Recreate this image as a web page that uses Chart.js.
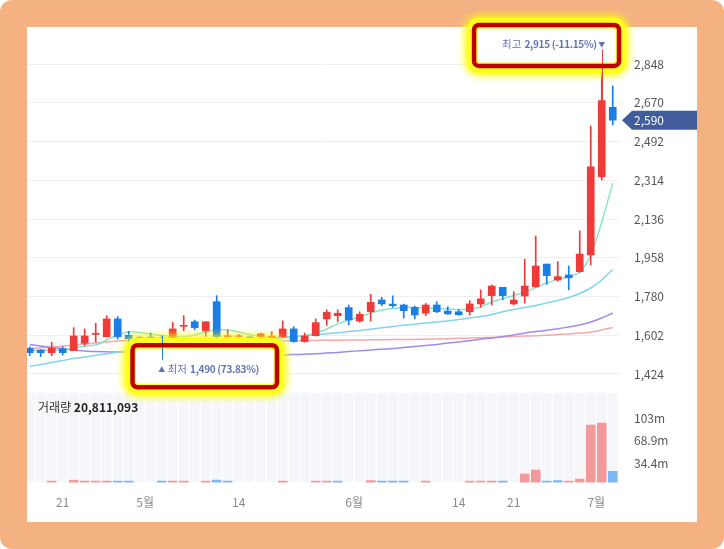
<!DOCTYPE html>
<html><head><meta charset="utf-8">
<script src="https://cdn.jsdelivr.net/npm/chart.js@4.4.1/dist/chart.umd.min.js"></script>
<style>
html,body{margin:0;padding:0;background:#fff;overflow:hidden;}
#frame{position:absolute;left:0;top:0;width:724px;height:549px;background:#f4b283;border-radius:12px;}
#card{position:absolute;left:27px;top:27px;width:670px;height:495px;background:#fff;}
#c{position:absolute;left:0;top:0;}
</style></head><body>
<div id="frame"><div id="card"></div></div>
<canvas id="c" width="724" height="549"></canvas>
<script>
const opens  = [1542,1534,1522,1540,1531,1565,1606,1595,1677,1602,1592,1594,1590,1585,1643,1664,1622,1756,1594,1595,1592,1593,1588,1595,1631,1573,1600,1677,1692,1729,1667,1710,1764,1745,1741,1730,1703,1741,1713,1710,1710,1746,1784,1822,1746,1782,1825,1929,1856,1879,1894,1971,2330,2649];
const closes = [1522,1522,1542,1522,1599,1599,1610,1677,1595,1586,1588,1589,1585,1631,1647,1637,1664,1595,1600,1598,1590,1608,1598,1631,1573,1599,1660,1707,1703,1672,1698,1753,1746,1738,1715,1695,1741,1710,1700,1696,1746,1769,1828,1784,1764,1828,1920,1876,1871,1866,1975,2376,2680,2590];
const highs  = [1549,1536,1570,1549,1637,1631,1657,1692,1688,1620,1597,1612,1600,1661,1692,1672,1664,1784,1626,1606,1598,1612,1618,1668,1641,1612,1677,1719,1719,1741,1710,1790,1776,1783,1745,1736,1748,1756,1733,1720,1761,1810,1833,1822,1802,1951,2058,1929,1940,1920,2081,2563,2915,2747];
const lows   = [1508,1504,1508,1511,1531,1554,1570,1595,1585,1565,1578,1570,1490,1580,1622,1627,1595,1585,1570,1585,1580,1590,1585,1592,1570,1570,1598,1647,1664,1650,1662,1667,1738,1730,1681,1677,1692,1706,1698,1694,1694,1730,1741,1766,1741,1750,1822,1836,1850,1810,1891,1925,2315,2568];
// volume, millions of shares
const volumes = [3,3,6.3,3,8.2,6.3,6.3,6.3,6.3,6.3,3,3,6.3,6.3,6.3,3,6.3,8.2,6.3,3,3,3,3,6.3,3,3,6.3,6.3,6.3,3,3,7.4,6.3,6.3,6.3,3,6.3,3,3,3,6.3,6.3,6.3,6.3,3,17.4,23.6,6.3,7.1,6.3,9.7,93,96,21.5];
const volDir = [-1,-1,1,-1,1,1,1,1,-1,-1,-1,-1,-1,1,1,-1,1,-1,-1,1,-1,1,1,1,-1,1,1,1,-1,-1,1,1,-1,-1,-1,-1,1,-1,-1,-1,1,1,1,-1,1,1,1,-1,-1,1,1,1,1,-1];
const ma5   = [1533,1533,1534,1534,1545,1552,1557,1580,1603,1617,1615,1608,1601,1596,1596,1603,1617,1628,1626,1617,1605,1596,1592,1594,1596,1601,1612,1631,1654,1672,1686,1704,1718,1725,1730,1730,1727,1725,1723,1720,1723,1732,1755,1769,1785,1801,1821,1842,1858,1872,1892,1971,2122,2301];
const ma20  = [1459,1468,1477,1486,1495,1502,1510,1517,1524,1530,1534,1539,1543,1548,1553,1557,1562,1566,1571,1574,1578,1582,1585,1589,1594,1599,1604,1609,1613,1619,1624,1630,1636,1642,1648,1653,1658,1663,1668,1674,1681,1688,1697,1710,1720,1729,1739,1750,1762,1775,1794,1819,1856,1904];
const ma60  = [1560,1553,1546,1540,1534,1530,1527,1526,1525,1524,1523,1522,1521,1520,1519,1518,1517,1516,1515,1514,1513,1512,1512,1512,1513,1515,1517,1520,1523,1527,1531,1534,1538,1541,1546,1550,1555,1560,1566,1571,1577,1584,1589,1596,1603,1612,1619,1625,1632,1640,1649,1663,1681,1704];
const ma120 = [1541,1544,1548,1552,1557,1562,1566,1571,1576,1578,1579,1578,1578,1578,1578,1578,1577,1577,1577,1577,1577,1577,1577,1577,1578,1578,1578,1579,1579,1580,1580,1581,1581,1582,1582,1583,1584,1585,1586,1588,1589,1591,1592,1594,1596,1598,1600,1602,1605,1608,1612,1617,1626,1638];
const yTicks = [1424,1602,1780,1958,2136,2314,2492,2670,2848];
const volTicks = [34.43,68.87,103.3];
const volTickLabels = ['34.4m','68.9m','103m'];
const xTickPos = [3,10.5,19,29.5,39,44,51.5];
const xTickLabels = ['21','5월','14','6월','14','21','7월'];
const lastVolume = '20,811,093';

const FONT = "'Noto Sans CJK KR','Noto Sans',sans-serif";
const RED='#ef3a3a', BLUE='#1a7ee6', VRED='#f29a9a', VBLUE='#7db7f4';
const idx = opens.map((_, i) => i);
const candleColor = idx.map(i => closes[i] >= opens[i] ? RED : BLUE);
const fixPad = s => { s.paddingTop=0; s.paddingBottom=0; s.paddingLeft=0; s.paddingRight=0; };

function maSet(label, arr, color){
  return {type:'line', label, data: idx.map(i=>({x:i,y:arr[i]})), borderColor:color, borderWidth:1.5,
    pointRadius:0, tension:0.3, yAxisID:'y', order:3};
}

function glowBox(ctx, l, t, w, h, after){
  const r = 5;
  ctx.save();
  ctx.shadowColor='rgba(255,255,0,1)'; ctx.shadowBlur=10;
  ctx.beginPath(); ctx.roundRect(l,t,w,h,r); ctx.strokeStyle='#ffff20'; ctx.lineWidth=14; ctx.stroke();
  ctx.stroke();
  ctx.shadowBlur=0;
  ctx.beginPath(); ctx.roundRect(l+3.5,t+3.5,w-7,h-7,3); ctx.fillStyle='#fff'; ctx.fill();
  if (after) after();
  ctx.beginPath(); ctx.roundRect(l,t,w,h,r); ctx.strokeStyle='#c00000'; ctx.lineWidth=4.5; ctx.stroke();
  ctx.restore();
}

const overlay = {
  id:'overlay',
  beforeDatasetsDraw(chart){
    const {ctx, chartArea} = chart; const x = chart.scales.x, yv = chart.scales.yv;
    ctx.save();
    ctx.beginPath(); ctx.rect(chartArea.left, chartArea.top, chartArea.width, chartArea.height); ctx.clip();
    ctx.fillStyle='#f4f6fa';
    idx.forEach(i=>{ const px=x.getPixelForValue(i); ctx.fillRect(px-4.9, yv.top, 9.8, yv.bottom-yv.top); });
    ctx.restore();
  },
  afterDraw(chart){
    const {ctx, chartArea} = chart; const x = chart.scales.x, y = chart.scales.y, yv = chart.scales.yv;
    ctx.save();
    // volume title
    ctx.textBaseline='middle'; ctx.textAlign='left';
    ctx.font = `12px ${FONT}`; ctx.fillStyle='#333';
    const tx = chartArea.left + 11, ty = yv.top + 14;
    ctx.fillText('거래량', tx, ty);
    const w1 = ctx.measureText('거래량 ').width;
    ctx.font = `bold 12px ${FONT}`; ctx.fillStyle='#222';
    ctx.fillText(lastVolume, tx + w1, ty);
    // price tag
    const last = closes[closes.length-1];
    const py = y.getPixelForValue(last);
    const x0 = chartArea.right + 2, x1 = y.right;
    ctx.fillStyle='#415c9b';
    ctx.beginPath(); ctx.moveTo(x0,py); ctx.lineTo(x0+10,py-9.5); ctx.lineTo(x1,py-9.5); ctx.lineTo(x1,py+9.5); ctx.lineTo(x0+10,py+9.5); ctx.closePath(); ctx.fill();
    ctx.fillStyle='#fff'; ctx.font=`12px ${FONT}`; ctx.textAlign='left';
    ctx.fillText(last.toLocaleString('en-US'), x0+12, py+0.5);
    // annotations
    let iLow=0, iHigh=0;
    idx.forEach(i=>{ if(lows[i]<lows[iLow]) iLow=i; if(highs[i]>highs[iHigh]) iHigh=i; });
    const TXT='#6376b0';
    // low
    {
      const px = x.getPixelForValue(iLow), pl = y.getPixelForValue(lows[iLow]);
      glowBox(ctx, px-29.2, pl-14.5, 144.5, 42.2, ()=>{
        ctx.strokeStyle=candleColor[iLow]; ctx.lineWidth=1;
        ctx.beginPath(); ctx.moveTo(Math.round(px)+0.5, y.getPixelForValue(highs[iLow])); ctx.lineTo(Math.round(px)+0.5, pl); ctx.stroke();
      });
      const pct = ((last-lows[iLow])/lows[iLow]*100).toFixed(2);
      const ty2 = pl + 9.5;
      ctx.fillStyle=TXT; ctx.textBaseline='middle';
      ctx.font=`7px ${FONT}`; ctx.textAlign='center'; ctx.fillText('▲', px, ty2);
      ctx.textAlign='left'; ctx.font=`10.5px ${FONT}`;
      ctx.fillText('최저', px+6, ty2);
      const ww = ctx.measureText('최저').width;
      ctx.font=`bold 10px ${FONT}`; ctx.letterSpacing='-0.3px';
      ctx.fillText(lows[iLow].toLocaleString('en-US')+' ('+pct+'%)', px+6+ww+3, ty2);
      ctx.letterSpacing='0px';
    }
    // high
    {
      const px = x.getPixelForValue(iHigh), ph = y.getPixelForValue(highs[iHigh]);
      glowBox(ctx, px-127.7, ph-24.5, 145, 41, ()=>{
        ctx.strokeStyle=candleColor[iHigh]; ctx.lineWidth=1;
        ctx.beginPath(); ctx.moveTo(Math.round(px)+0.5, ph); ctx.lineTo(Math.round(px)+0.5, y.getPixelForValue(Math.max(opens[iHigh],closes[iHigh]))); ctx.stroke();
      });
      const pct = ((last-highs[iHigh])/highs[iHigh]*100).toFixed(2);
      const ty3 = ph - 5.5;
      ctx.fillStyle=TXT; ctx.textBaseline='middle';
      ctx.font=`7px ${FONT}`; ctx.textAlign='center'; ctx.fillText('▼', px, ty3);
      ctx.textAlign='right'; ctx.font=`bold 10px ${FONT}`; ctx.letterSpacing='-0.3px';
      const s = highs[iHigh].toLocaleString('en-US')+' ('+pct+'%)';
      ctx.fillText(s, px-5, ty3);
      const ws = ctx.measureText(s).width;
      ctx.letterSpacing='0px';
      ctx.font=`10.5px ${FONT}`;
      ctx.fillText('최고', px-5-ws-3, ty3);
    }
    ctx.restore();
  }
};

new Chart(document.getElementById('c'), {
  type:'bar',
  data:{ datasets:[
    maSet('MA5', ma5, '#8ce3cd'),
    maSet('MA20', ma20, '#84d3ee'),
    maSet('MA60', ma60, '#a08be6'),
    maSet('MA120', ma120, '#f6a9a9'),
    {label:'wick', data: idx.map(i=>({x:i,y:[lows[i],highs[i]]})), backgroundColor:candleColor, barThickness:1, grouped:false, yAxisID:'y', order:2},
    {label:'body', data: idx.map(i=>({x:i,y:[opens[i],closes[i]]})), backgroundColor:candleColor, barThickness:7, minBarLength:1, grouped:false, yAxisID:'y', order:1},
    {label:'vol', data: idx.map(i=>({x:i,y:volumes[i]})), backgroundColor: volDir.map(d=>d>0?VRED:VBLUE), barThickness:9, grouped:false, yAxisID:'yv', order:1}
  ]},
  options:{
    responsive:false, animation:false, devicePixelRatio:1,
    layout:{padding:{left:27, top:27, right:27, bottom:27}},
    plugins:{legend:{display:false}, tooltip:{enabled:false}},
    scales:{
      x:{type:'linear', min:-0.245, max:53.66, bounds:'data', offset:false,
        grid:{display:false}, border:{display:false},
        afterBuildTicks: s => { s.ticks = xTickPos.map(v=>({value:v})); },
        ticks:{autoSkip:false, maxRotation:0, padding:5, color:'#8a8a8a', font:{family:FONT, size:12},
          callback:(v,i)=>xTickLabels[i]},
        afterFit: s => { s.height = 39.5; fixPad(s); }
      },
      y:{type:'linear', position:'right', stack:'s', stackWeight:366, min:1336.7, max:3018, bounds:'data',
        grid:{color:'#f0f0f0', drawTicks:false}, border:{display:false},
        afterBuildTicks: s => { s.ticks = yTicks.map(v=>({value:v})); },
        ticks:{padding:14, color:'#555', font:{family:FONT, size:12}, callback: v => v.toLocaleString('en-US')},
        afterFit: s => { s.width = 77; fixPad(s); }
      },
      yv:{type:'linear', position:'right', stack:'s', stackWeight:89.5, min:4.3, max:142.3, bounds:'data',
        grid:{display:false, drawTicks:false}, border:{display:false},
        afterBuildTicks: s => { s.ticks = volTicks.map(v=>({value:v})); },
        ticks:{padding:14, color:'#555', font:{family:FONT, size:12}, callback:(v,i)=>volTickLabels[i]},
        afterFit: s => { s.width = 77; fixPad(s); }
      }
    }
  },
  plugins:[overlay]
});
</script>
</body></html>
